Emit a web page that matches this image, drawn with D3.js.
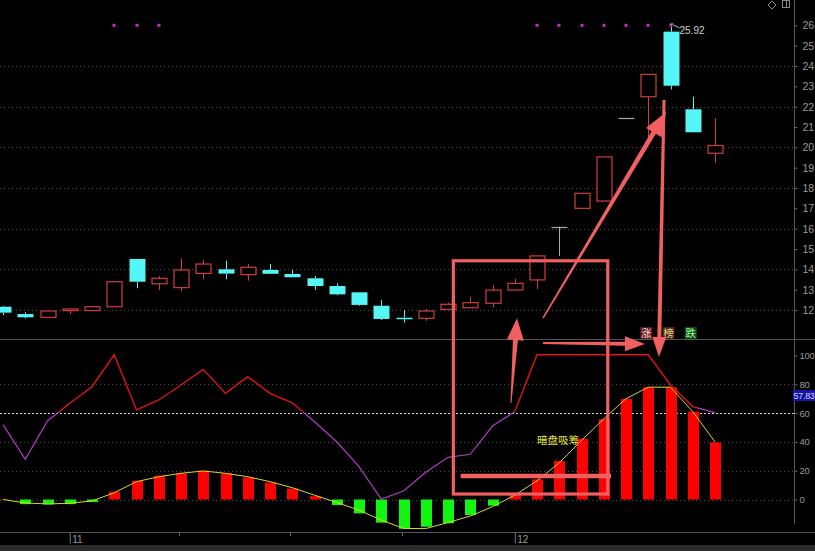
<!DOCTYPE html>
<html><head><meta charset="utf-8">
<script src="https://cdn.jsdelivr.net/npm/d3@7"></script>
<style>html,body{margin:0;padding:0;background:#000;overflow:hidden}svg{display:block}</style>
</head><body>
<svg id="c" width="815" height="551"></svg>
<script>
// ---------- DATA ----------
const candleIndex = d3.range(33);
const openP  = [12.16,11.80,11.64,11.97,11.97,12.16,14.51,13.29,13.10,13.80,14.00,13.74,13.97,13.77,13.56,13.18,12.87,12.21,11.63,11.59,12.03,12.11,12.33,12.98,13.48,16.10,17.00,17.36,21.46,22.49,25.69,21.87,19.71];
const highP  = [12.20,11.89,11.97,12.05,12.21,13.42,14.51,13.67,14.54,14.46,14.42,14.26,14.26,13.97,13.67,13.31,12.87,12.49,12.00,12.05,12.36,12.65,13.23,13.54,14.66,16.10,17.74,19.53,21.46,23.59,25.92,22.49,21.43];
const lowP   = [11.75,11.59,11.64,11.80,11.97,12.14,13.07,12.98,12.93,13.51,13.51,13.44,13.78,13.61,12.98,12.72,12.21,11.51,11.38,11.47,12.03,12.11,12.13,12.98,13.02,14.66,17.00,17.36,21.46,20.50,22.85,20.74,19.25];
const closeP = [11.87,11.64,11.95,12.05,12.16,13.39,13.39,13.56,13.97,14.26,13.79,14.10,13.78,13.61,13.18,12.77,12.25,11.56,11.61,11.95,12.28,12.36,12.98,13.31,14.66,16.10,17.74,19.53,21.46,23.59,23.03,20.74,20.09];
const histValues = [0.4,-3.2,-3.4,-3.2,-1.7,5.4,13,16.5,18.2,20,18.2,15.3,11.8,7.6,2.3,-3.8,-9.6,-16.1,-20.3,-18.9,-16.5,-10.8,-4.3,4,14,26.7,42.2,55.9,69.8,77.9,77.9,61,39.7];
const signalLine = [0,-2.4,-3.1,-2.6,-1,4.7,12.4,15.8,18.2,19.8,18.2,15.8,12.4,8.2,3,-2.1,-7.4,-14.3,-20.1,-20.2,-16,-11.5,-5,3,13,25.5,41,56,70,78,78,61,40];
const strengthLine = [52,27.9,54.5,66.8,78.3,100.5,62.2,69.1,79.5,90.4,73.7,85.3,73.7,67.2,54,40.1,22.8,0.3,5.9,18.9,29.3,31.4,51,61,100.5,100.5,100.5,100.5,100.5,100.5,79.5,64.5,60.3];
const markerIdx = [5,6,7,24,25,26,27,28,29,30];
const markerLevel = 26.0;
const priceTicks = d3.range(12,27);
const priceGrid = [12,14,16,18,20,22,24];
const lowerTicks = [0,20,40,60,80,100];
const lowerGrid = [0,20,40,80];
const refLevel = 60;
const colorSplit = 61;
const monthIdx = [3,23];
const monthLabels = ["11","12"];
const minorIdx = [8,13,18];
const tagIdx = [29,30,31];
const tagLabels = ["涨","榜","跌"];
const noteText = "暗盘吸筹";
const lastValueLabel = "57.83";
const highLabel = "25.92";

// annotations (data units: candle index, price or lower-pane value)
const annoRect = {x0:20.24, x1:27.18, topPrice:14.42, bottomVal:3.8};
const annoBar = {x0:20.57, x1:27.33, val:16.3};
const annoArrows = [
  {t:[22.83,'L',67], h:[23.1,'P',11.6], w0:1, w1:5, hw:17, hl:22},
  {t:[24.27,'P',11.6], h:[29.8,'P',21.74], w0:1.5, w1:5, hw:18, hl:24},
  {t:[24.27,'L',108.7], h:[28.85,'L',108], w0:2, w1:4, hw:15, hl:20},
  {t:[29.71,'P',22.33], h:[29.48,'L',99], w0:3, w1:4, hw:14, hl:20}
];

// ---------- SCALES ----------
const W = 815, H = 551, axisX = 794;
const x = d3.scaleLinear().domain([0,32]).range([3,715]);
const yP = d3.scaleLinear().domain([12,24]).range([310,66]);
const yL = d3.scaleLinear().domain([0,100]).range([499.5,355.5]);
const Y = (pane,v) => pane==='P' ? yP(v) : yL(v);

const svg = d3.select('#c');
svg.append('rect').attr('width',W).attr('height',H).attr('fill','#000');

const RED='#d23c3c', CYAN='#55f6f6', GRAY='#a8a8a8';
const px = v => Math.round(v)+0.5;

// ---------- GRID ----------
const g = svg.append('g');
g.selectAll('.pg').data(priceGrid).join('line')
  .attr('x1',0).attr('x2',axisX).attr('y1',d=>px(yP(d))).attr('y2',d=>px(yP(d)))
  .attr('stroke','#4a4a4a').attr('stroke-dasharray','1,3');
g.selectAll('.lg').data(lowerGrid).join('line')
  .attr('x1',0).attr('x2',axisX).attr('y1',d=>px(yL(d))).attr('y2',d=>px(yL(d)))
  .attr('stroke','#4a4a4a').attr('stroke-dasharray','1,3');
g.append('line').attr('x1',0).attr('x2',axisX).attr('y1',px(yL(refLevel))).attr('y2',px(yL(refLevel)))
  .attr('stroke','#d8d8d8').attr('stroke-dasharray','2,2');

// frame lines
svg.append('line').attr('x1',0).attr('x2',W).attr('y1',339.5).attr('y2',339.5).attr('stroke','#555');
svg.append('line').attr('x1',axisX+0.5).attr('x2',axisX+0.5).attr('y1',0).attr('y2',524).attr('stroke','#555');
svg.append('line').attr('x1',0).attr('x2',W).attr('y1',532.5).attr('y2',532.5).attr('stroke','#555');
svg.append('rect').attr('x',0).attr('y',545).attr('width',W).attr('height',6).attr('fill','#2c2c2c');

// ---------- RIGHT AXES ----------
const axP = svg.append('g').attr('transform',`translate(${axisX+0.5},0)`)
  .call(d3.axisRight(yP).tickValues(priceTicks).tickSize(3).tickFormat(d3.format('d')));
const axL = svg.append('g').attr('transform',`translate(${axisX+0.5},0)`)
  .call(d3.axisRight(yL).tickValues(lowerTicks).tickSize(3).tickFormat(d3.format('d')));
[axP,axL].forEach(a=>{
  a.select('.domain').remove();
  a.selectAll('line').attr('stroke','#666');
  a.selectAll('text').attr('fill','#9a9a9a').attr('font-family','Liberation Sans, Arial, sans-serif');
});
axP.selectAll('text').attr('font-size',10.5).attr('x',8);
axL.selectAll('text').attr('font-size',9.5).attr('x',5).attr('letter-spacing',-0.3);

// last value box
svg.append('rect').attr('x',793).attr('y',390).attr('width',22).attr('height',11).attr('fill','#1515a8');
svg.append('text').attr('x',793.5).attr('y',399).text(lastValueLabel)
  .attr('fill','#d0d0ff').attr('font-family','Liberation Sans, Arial, sans-serif').attr('font-size',8.8)
  .attr('letter-spacing',-0.2);

// ---------- BOTTOM AXIS ----------
const axB = svg.append('g').attr('transform','translate(0,532.5)')
  .call(d3.axisBottom(x).tickValues(monthIdx).tickSize(11).tickFormat((d,i)=>monthLabels[i]));
axB.select('.domain').remove();
axB.selectAll('line').attr('stroke','#777');
axB.selectAll('text').attr('fill','#999').attr('font-family','Liberation Sans, Arial, sans-serif')
  .attr('font-size',10).attr('text-anchor','start').attr('x',2).attr('y',3);
svg.selectAll('.minor').data(minorIdx).join('line')
  .attr('x1',d=>px(x(d))-2).attr('x2',d=>px(x(d))-2).attr('y1',533).attr('y2',536).attr('stroke','#666');

// top-right icons
svg.append('path').attr('d','M772,1 L776,5 L772,9 L768,5 Z').attr('fill','none').attr('stroke','#888');
svg.append('rect').attr('x',782.5).attr('y',0.5).attr('width',7).attr('height',7).attr('fill','none').attr('stroke','#888');
svg.append('line').attr('x1',786.5).attr('x2',786.5).attr('y1',0).attr('y2',8).attr('stroke','#888');

// ---------- CANDLES ----------
const cg = svg.append('g');
candleIndex.forEach(i=>{
  const o=openP[i], c=closeP[i], h=highP[i], l=lowP[i];
  const cx = px(x(i));
  const col = c>o ? RED : (c<o ? CYAN : GRAY);
  const top = yP(Math.max(o,c)), bot = yP(Math.min(o,c));
  if (c===o){
    cg.append('line').attr('x1',cx).attr('x2',cx).attr('y1',yP(h)).attr('y2',yP(l)).attr('stroke',col);
    cg.append('line').attr('x1',cx-8).attr('x2',cx+8).attr('y1',px(top)).attr('y2',px(top)).attr('stroke',col).attr('stroke-width',1.2);
    return;
  }
  cg.append('line').attr('x1',cx).attr('x2',cx).attr('y1',yP(h)).attr('y2',top).attr('stroke',col);
  cg.append('line').attr('x1',cx).attr('x2',cx).attr('y1',bot).attr('y2',yP(l)).attr('stroke',col);
  if (c>o){
    cg.append('rect').attr('x',cx-7.5).attr('y',top).attr('width',15).attr('height',Math.max(1,bot-top))
      .attr('fill','#000').attr('stroke',col).attr('stroke-width',1.2);
  } else {
    const hgt = bot-top;
    if (hgt < 1.5) {
      cg.append('line').attr('x1',cx-8).attr('x2',cx+8).attr('y1',px(top)).attr('y2',px(top)).attr('stroke',col).attr('stroke-width',1.5);
    } else {
      cg.append('rect').attr('x',cx-8).attr('y',top).attr('width',16).attr('height',hgt).attr('fill',col);
    }
  }
});

// markers
svg.selectAll('.mk').data(markerIdx).join('rect')
  .attr('x',d=>Math.round(x(d))-1.5).attr('y',yP(markerLevel)-1.5).attr('width',3).attr('height',3).attr('fill','#c82cc8');

// high label
{
  const hx = px(x(30)), hy = yP(25.92);
  svg.append('path').attr('d',`M${hx-1},${hy-3} L${hx+2},${hy-3} M${hx+2},${hy-2} L${hx+8},${hy+1}`)
    .attr('stroke','#bbb').attr('fill','none');
  svg.append('text').attr('x',hx+8).attr('y',hy+7).text(highLabel)
    .attr('fill','#cfcfcf').attr('font-family','Liberation Sans, Arial, sans-serif').attr('font-size',10);
}

// ---------- LOWER PANE ----------
const lg = svg.append('g');
lg.selectAll('.hb').data(candleIndex).join('rect')
  .attr('x',i=>Math.round(x(i))-5).attr('width',11)
  .attr('y',i=>Math.min(yL(0),yL(histValues[i])))
  .attr('height',i=>Math.abs(yL(histValues[i])-yL(0)))
  .attr('fill',i=>histValues[i]>=0?'#ff0000':'#11f511');

lg.append('path').datum(candleIndex)
  .attr('d',d3.line().x(i=>x(i)).y(i=>yL(signalLine[i])))
  .attr('fill','none').attr('stroke','#d6d62a').attr('stroke-width',1);

const defs = svg.append('defs');
defs.append('clipPath').attr('id','above').append('rect').attr('x',0).attr('y',340).attr('width',x(31.2)).attr('height',yL(colorSplit)-340);
defs.append('clipPath').attr('id','below').append('path')
  .attr('d',`M0,${yL(colorSplit)}H${x(31.2)}V340H${W}V532H0Z`);
const sLine = d3.line().x(i=>x(i)).y(i=>yL(strengthLine[i]));
lg.append('path').datum(candleIndex).attr('d',sLine).attr('clip-path','url(#above)')
  .attr('fill','none').attr('stroke','#e01414').attr('stroke-width',1.4);
lg.append('path').datum(candleIndex).attr('d',sLine).attr('clip-path','url(#below)')
  .attr('fill','none').attr('stroke','#b03cc0').attr('stroke-width',1.2);

// note text
svg.append('text').attr('x',x(24.0)).attr('y',yL(38.5)).text(noteText)
  .attr('fill','#e6e63c').attr('font-family','Noto Sans CJK SC, sans-serif').attr('font-size',10.5);

// tags
const tagBg = ['#5a1a1a','#3e2a14','#0f4a14'];
const tagFg = ['#ffd6d6','#f2c888','#9cff9c'];
tagIdx.forEach((d,k)=>{
  const cx = x(d)-2;
  svg.append('rect').attr('x',cx-6).attr('y',327).attr('width',12).attr('height',12).attr('fill',tagBg[k]);
  svg.append('text').attr('x',cx).attr('y',337).attr('text-anchor','middle').text(tagLabels[k])
    .attr('fill',tagFg[k]).attr('font-family','Noto Sans CJK SC, sans-serif').attr('font-size',10.5);
});

// ---------- ANNOTATIONS ----------
const AC = '#f06060';
const ag = svg.append('g');
ag.append('rect').attr('x',x(annoRect.x0)).attr('y',yP(annoRect.topPrice))
  .attr('width',x(annoRect.x1)-x(annoRect.x0)).attr('height',yL(annoRect.bottomVal)-yP(annoRect.topPrice))
  .attr('fill','none').attr('stroke',AC).attr('stroke-width',3.2);
ag.append('line').attr('x1',x(annoBar.x0)).attr('x2',x(annoBar.x1)).attr('y1',yL(annoBar.val)).attr('y2',yL(annoBar.val))
  .attr('stroke',AC).attr('stroke-width',4.5);
function arrowPts(x1,y1,x2,y2,w0,w1,hw,hl){
  const dx=x2-x1, dy=y2-y1, L=Math.hypot(dx,dy), ux=dx/L, uy=dy/L, nx=-uy, ny=ux;
  const bx=x2-ux*hl, by=y2-uy*hl;
  return [[x1+nx*w0/2,y1+ny*w0/2],[bx+nx*w1/2,by+ny*w1/2],[bx+nx*hw/2,by+ny*hw/2],[x2,y2],
          [bx-nx*hw/2,by-ny*hw/2],[bx-nx*w1/2,by-ny*w1/2],[x1-nx*w0/2,y1-ny*w0/2]];
}
annoArrows.forEach(a=>{
  const p = arrowPts(x(a.t[0]),Y(a.t[1],a.t[2]),x(a.h[0]),Y(a.h[1],a.h[2]),a.w0,a.w1,a.hw,a.hl);
  ag.append('path').attr('d','M'+p.map(q=>q.join(',')).join('L')+'Z').attr('fill',AC);
});
</script>
</body></html>
